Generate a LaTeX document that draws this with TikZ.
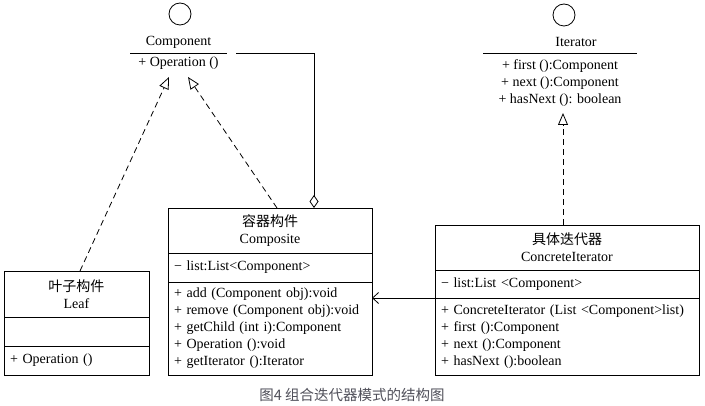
\documentclass[tikz,border=0pt]{standalone}
\usepackage{fontspec}
\setmainfont{Liberation Serif}
\newfontfamily\cjk{Noto Sans CJK SC}
\usetikzlibrary{positioning, arrows.meta}
\definecolor{captiongray}{RGB}{80,80,90}

\begin{document}
\begin{tikzpicture}[x=1pt, y=-1pt, node distance=0pt, line width=0.8pt,
    font=\fontsize{14}{17}\selectfont,
    classhead/.style={draw, minimum width=#1, align=center, inner sep=0pt, outer sep=0pt},
    classpart/.style={draw, text width=#1, align=left, inner xsep=6pt, inner ysep=0pt, outer sep=0pt},
    ifacering/.style={circle, draw, minimum size=22pt, inner sep=0pt},
    realize/.style={dash pattern=on 6pt off 4pt, -{Triangle[open, length=12pt, width=10pt]}},
    aggr/.style={-{Diamond[open, length=13pt, width=9pt]}},
    navig/.style={-{Straight Barb[length=6pt, width=11pt]}}]
\useasboundingbox (0,0) rectangle (705,406);

\node[ifacering] (compring) at (180,14) {};
\node[minimum width=97pt, minimum height=22pt, inner sep=0pt, outer sep=0pt] (compname) at (178.5,42) {Component};
\node[minimum width=97pt, minimum height=20pt, inner sep=0pt, outer sep=0pt, below=of compname] (compop) {+ Operation ()};
\draw (compname.south west) -- (compname.south east);

\node[ifacering] (iterring) at (564,15) {};
\node[inner sep=0pt] (itername) at (576,42) {Iterator};
\node[minimum width=154pt, minimum height=60pt, inner sep=0pt, outer sep=0pt, align=center, anchor=north] (itermeth) at (560,53)
  {+ first ():Component\\+ next ():Component\\+ hasNext (): boolean};
\draw (itermeth.north west) -- (itermeth.north east);

\node[classhead=145pt, minimum height=46pt, anchor=north west] (leaf) at (4,271) {{\cjk 叶子构件}\\Leaf};
\node[classpart=133pt, minimum height=29pt, below=of leaf] (leafattr) {};
\node[classpart=133pt, minimum height=29pt, below=of leafattr] (leafops) {+ Operation ()};

\node[classhead=204pt, minimum height=45pt, anchor=north west] (composite) at (168,208) {{\cjk 容器构件}\\Composite};
\node[classpart=192pt, minimum height=29pt, below=of composite] (compattr) {− list:List<Component>};
\node[classpart=192pt, minimum height=93pt, below=of compattr] (compops)
  {+ add (Component obj):void\\+ remove (Component obj):void\\+ getChild (int i):Component\\+ Operation ():void\\+ getIterator ():Iterator};

\node[classhead=264pt, minimum height=45pt, anchor=north west] (ci) at (435,225) {{\cjk 具体迭代器}\\ConcreteIterator};
\node[classpart=252pt, minimum height=28pt, below=of ci] (ciattr) {− list:List <Component>};
\node[classpart=252pt, minimum height=77pt, below=of ciattr] (ciops)
  {+ ConcreteIterator (List <Component>list)\\+ first ():Component\\+ next ():Component\\+ hasNext ():boolean};

\coordinate (leaftip) at ([xshift=-9.5pt, yshift=-4pt]compop.south);
\coordinate (comptip) at ([xshift=9.5pt, yshift=-4pt]compop.south);
\draw[realize] ([xshift=3.5pt]leaf.north) -- (leaftip);
\draw[realize] ([xshift=7pt]composite.north) -- (comptip);
\draw[aggr] ([xshift=9pt]compname.south east) -| ([xshift=44pt]composite.north);
\draw[realize] ([xshift=-4pt]ci.north) -- ([xshift=-4pt]ci.north |- itermeth.south);
\draw[navig] (ciattr.south west) -- (ciattr.south west -| compops.east);

\node[text=captiongray, font=\fontsize{14.5}{17}\selectfont] (caption) at (352,395) {\cjk 图4 组合迭代器模式的结构图};
\end{tikzpicture}
\end{document}
